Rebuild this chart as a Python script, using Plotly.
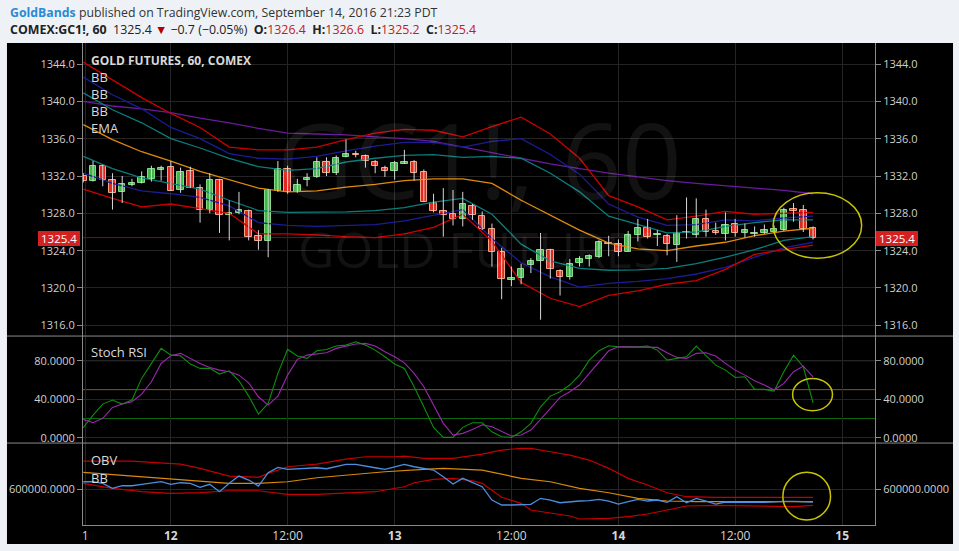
"""Rebuilds the TradingView GC1! 60 minute snapshot: candles with bands, Stoch RSI and OBV."""

import plotly.graph_objects as go

# ---- price candles, one per hourly bar (x = bar number from the left edge) ----
OPEN = [1332.0, 1331.5, 1333.1, 1331.6, 1330.3, 1331.0, 1331.3, 1331.7, 1332.6, 1333.0,
        1330.5, 1332.5, 1330.7, 1328.4, 1331.6, 1327.8, 1328.0, 1328.3, 1325.6, 1325.0,
        1330.4, 1332.8, 1330.3, 1331.6, 1331.9, 1333.5, 1332.3, 1334.0, 1334.4, 1334.1,
        1333.5, 1332.9, 1332.5, 1333.3, 1333.5, 1332.4, 1329.1, 1328.2, 1327.9, 1327.4,
        1328.8, 1327.7, 1326.3, 1323.9, 1320.9, 1321.1, 1322.5, 1322.9, 1324.1, 1321.8,
        1321.2, 1322.7, 1323.1, 1323.3, 1324.8, 1324.7, 1323.9, 1325.7, 1326.4, 1325.7,
        1325.6, 1324.6, 1326.0, 1325.7, 1327.4, 1326.1, 1325.8, 1326.9, 1325.9, 1325.8,
        1325.9, 1326.0, 1326.2, 1328.5, 1328.4, 1326.4]
HIGH = [1332.3, 1333.6, 1333.2, 1332.3, 1332.0, 1331.7, 1332.5, 1333.1, 1333.1, 1333.6,
        1332.9, 1333.0, 1331.1, 1332.3, 1331.7, 1329.4, 1330.3, 1328.4, 1326.2, 1330.6,
        1333.6, 1333.1, 1331.7, 1332.3, 1334.0, 1334.0, 1334.2, 1335.9, 1334.7, 1334.3,
        1333.7, 1333.1, 1333.6, 1334.8, 1333.7, 1332.7, 1330.1, 1330.7, 1330.5, 1330.3,
        1329.0, 1328.2, 1326.9, 1324.3, 1322.3, 1322.6, 1323.2, 1325.9, 1324.2, 1322.0,
        1323.1, 1323.4, 1323.6, 1325.1, 1325.6, 1325.2, 1326.1, 1327.4, 1327.4, 1326.2,
        1325.8, 1327.8, 1329.7, 1329.6, 1328.4, 1327.0, 1328.1, 1327.4, 1326.9, 1326.6,
        1326.8, 1326.7, 1328.6, 1329.1, 1328.9, 1326.6]
LOW = [1331.3, 1331.4, 1330.9, 1328.4, 1329.1, 1330.9, 1331.2, 1331.4, 1331.5, 1330.4,
       1330.2, 1330.7, 1327.0, 1328.0, 1325.9, 1325.1, 1327.9, 1325.1, 1324.1, 1323.3,
       1330.3, 1330.1, 1330.2, 1330.9, 1331.8, 1332.0, 1332.1, 1334.0, 1334.0, 1332.9,
       1332.3, 1331.9, 1331.6, 1333.3, 1331.5, 1329.2, 1328.1, 1325.5, 1326.7, 1326.6,
       1327.3, 1326.2, 1322.3, 1318.8, 1320.2, 1320.4, 1321.6, 1316.6, 1321.0, 1319.2,
       1320.9, 1322.3, 1322.3, 1323.2, 1323.4, 1323.4, 1323.9, 1325.0, 1325.3, 1324.5,
       1323.5, 1322.8, 1325.3, 1325.4, 1325.5, 1325.7, 1325.1, 1325.5, 1325.4, 1325.5,
       1325.8, 1325.9, 1326.1, 1327.1, 1326.0, 1325.2]
CLOSE = [1331.5, 1333.1, 1331.6, 1330.2, 1331.1, 1331.3, 1331.9, 1332.8, 1332.9, 1330.4,
         1332.4, 1330.7, 1328.4, 1331.6, 1327.8, 1328.0, 1328.4, 1325.5, 1325.0, 1330.5,
         1332.8, 1330.3, 1331.0, 1331.8, 1333.5, 1332.3, 1333.9, 1334.4, 1334.2, 1333.6,
         1333.1, 1332.5, 1333.4, 1333.5, 1332.3, 1329.2, 1328.3, 1327.8, 1327.4, 1329.0,
         1327.8, 1326.3, 1323.9, 1321.0, 1321.1, 1322.0, 1322.9, 1324.1, 1322.0, 1321.2,
         1322.6, 1323.1, 1323.4, 1324.9, 1324.7, 1323.9, 1325.7, 1326.4, 1325.5, 1325.75,
         1324.7, 1325.9, 1325.9, 1327.4, 1326.0, 1325.9, 1326.8, 1325.9, 1326.2, 1325.9,
         1326.2, 1326.3, 1328.4, 1328.3, 1326.3, 1325.4]

# ---- overlays on the price pane, read every third bar ----
BAND_IDX = [0, 3, 6, 9, 12, 15, 18, 21, 24, 27, 30, 33, 36, 39, 42, 45, 48, 51, 54, 57,
            60, 63, 66, 69, 72, 75]
RED_UP = [1344.2, 1342.3, 1340.4, 1338.7, 1337.2, 1335.1, 1334.8, 1334.8, 1335.1, 1335.9,
          1336.6, 1337.0, 1336.9, 1336.2, 1337.3, 1338.3, 1336.5, 1333.9, 1329.9, 1328.7,
          1327.3, 1327.7, 1328.2, 1327.9, 1328.0, 1328.1]
BLUE_UP = [1342.6, 1340.7, 1339.2, 1337.2, 1336.0, 1334.4, 1333.9, 1333.8, 1334.1, 1334.7,
           1335.2, 1335.6, 1335.6, 1335.1, 1335.7, 1336.0, 1334.3, 1332.2, 1329.0, 1327.6,
           1326.7, 1326.8, 1327.3, 1327.2, 1327.5, 1327.7]
TEAL_UP = [1340.9, 1339.1, 1337.7, 1336.0, 1335.0, 1333.9, 1333.0, 1332.6, 1332.8, 1333.5,
           1333.9, 1334.2, 1334.3, 1334.0, 1334.1, 1333.9, 1332.3, 1330.3, 1327.7, 1326.8,
           1325.9, 1326.0, 1326.6, 1327.0, 1327.3, 1327.3]
PURPLE = [1340.0, 1339.5, 1339.2, 1338.8, 1338.2, 1337.7, 1337.1, 1336.6, 1336.5, 1336.4,
          1336.2, 1336.0, 1335.7, 1335.1, 1334.5, 1333.9, 1333.3, 1332.8, 1332.3, 1331.9,
          1331.5, 1331.2, 1330.95, 1330.7, 1330.45, 1330.1]
EMA = [1337.5, 1335.9, 1334.6, 1333.6, 1332.5, 1331.6, 1330.7, 1330.3, 1330.4, 1330.8,
       1331.1, 1331.5, 1331.7, 1331.7, 1331.2, 1329.4, 1327.8, 1326.2, 1324.8, 1324.2,
       1324.0, 1324.5, 1324.9, 1325.6, 1326.1, 1326.4]
TEAL_LO = [1334.1, 1332.8, 1331.8, 1331.2, 1330.6, 1329.4, 1328.3, 1328.1, 1328.1, 1328.15,
           1328.3, 1328.6, 1329.2, 1329.6, 1327.9, 1324.7, 1322.9, 1322.1, 1321.9, 1321.95,
           1322.1, 1322.6, 1323.3, 1324.1, 1325.1, 1325.5]
BLUE_LO = [1332.3, 1331.2, 1330.4, 1330.1, 1329.7, 1328.8, 1327.0, 1326.7, 1326.6, 1326.7,
           1326.8, 1327.2, 1327.8, 1328.4, 1325.3, 1322.7, 1321.2, 1320.1, 1320.5, 1320.7,
           1321.0, 1321.5, 1322.2, 1323.3, 1324.3, 1324.9]
RED_LO = [1330.6, 1329.6, 1328.7, 1329.0, 1328.5, 1328.0, 1325.8, 1325.8, 1325.7, 1325.5,
          1325.4, 1325.8, 1326.5, 1327.9, 1325.0, 1320.6, 1318.9, 1318.0, 1319.2, 1319.7,
          1320.4, 1320.8, 1322.0, 1323.6, 1324.1, 1324.6]

# ---- Stoch RSI (per bar) ----
STOCH_K = [10.4, 23.6, 35.0, 39.2, 35.0, 39.2, 61.7, 77.3, 92.9, 85.9,
           85.2, 76.6, 72.1, 72.1, 66.2, 69.6, 59.2, 43.3, 24.6, 35.7,
           66.9, 91.8, 84.9, 82.5, 90.4, 91.8, 95.3, 96.3, 99.7, 96.3,
           91.1, 84.2, 76.6, 72.1, 53.0, 32.2, 10.8, 0.4, 0.4, 10.8,
           15.6, 15.6, 6.2, 1.0, 0.4, 6.2, 15.0, 32.2, 43.3, 47.8,
           54.8, 65.1, 80.7, 90.4, 95.6, 94.5, 94.5, 94.5, 95.3, 91.1,
           80.7, 82.5, 84.2, 95.3, 85.9, 75.5, 70.3, 62.7, 63.4, 50.3,
           50.3, 48.5, 68.6, 85.9, 73.8, 36.4]
STOCH_D = [19.1, 15.6, 20.2, 31.6, 35.0, 37.4, 45.4, 58.2, 77.3, 85.2,
           87.7, 82.5, 77.3, 73.1, 70.3, 68.6, 65.1, 57.1, 42.6, 34.0,
           43.3, 65.1, 81.5, 85.9, 87.0, 88.3, 92.9, 95.3, 97.4, 98.1,
           95.3, 89.4, 84.2, 77.9, 66.9, 53.0, 34.0, 15.0, 2.8, 4.6,
           8.7, 13.5, 11.4, 6.2, 1.8, 2.8, 8.0, 19.1, 30.5, 42.0,
           47.8, 54.8, 66.9, 79.0, 90.4, 94.5, 94.5, 94.5, 94.5, 93.9,
           88.3, 83.5, 82.5, 87.7, 88.3, 84.9, 77.3, 70.3, 65.1, 59.2,
           54.8, 49.6, 56.5, 68.6, 74.5, 63.4]
STOCH_LEVELS = [80, 50, 20]

# ---- OBV (per bar) and its bands ----
OBV = [614600, 614600, 611400, 601400, 606600, 606600, 609400, 611400, 614600, 609400,
       612600, 611400, 603400, 609400, 594600, 611400, 626000, 618000, 606000, 632600,
       643400, 639400, 640600, 640600, 642600, 640600, 644600, 649400, 649400, 646600,
       642600, 639400, 644600, 649400, 644600, 641400, 638000, 624600, 610000, 621400,
       612600, 604600, 578000, 568000, 568000, 569400, 569400, 581400, 578000, 572600,
       574600, 576000, 576600, 579400, 576000, 570000, 574600, 579400, 576000, 578000,
       573400, 584600, 572600, 581400, 576000, 570000, 574000, 573400, 573400, 573400,
       573400, 574600, 575400, 575400, 574000, 574000]
OBV_UP_IDX = [0, 5, 7, 10, 12, 14, 15, 18, 19, 21, 24, 27, 29, 32, 33, 35, 38, 41, 43, 45,
              46, 48, 50, 52, 54, 56, 58, 60, 62, 65, 68, 72, 75]
OBV_UP = [656000, 656000, 653400, 650000, 641400, 631400, 626000, 623400, 631400, 644600,
          650000, 660000, 664600, 664600, 666000, 661400, 661400, 670000, 678000, 681400,
          681400, 674600, 668000, 658000, 641400, 621400, 608000, 592600, 584600, 583400,
          583400, 583400, 583400]
OBV_MID_IDX = [0, 5, 9, 12, 15, 18, 21, 24, 28, 31, 35, 37, 41, 45, 48, 51, 54, 57, 60, 63,
               68, 75]
OBV_MID = [633400, 626000, 621400, 616600, 611400, 611400, 614600, 622600, 629400, 634600,
           639400, 641400, 638000, 621400, 614600, 601400, 592600, 581400, 576000, 574600,
           574600, 574600]
OBV_LO_IDX = [0, 3, 6, 9, 12, 15, 18, 21, 24, 28, 30, 33, 34, 36, 38, 40, 41, 43, 45, 46,
              48, 50, 51, 54, 56, 58, 60, 62, 65, 70, 73, 75]
OBV_LO = [611400, 601400, 594600, 591400, 592600, 596600, 596600, 589400, 589400, 592600,
          594600, 604600, 612600, 619400, 621400, 616600, 611400, 583400, 571400, 558000,
          551400, 546000, 540000, 541400, 544600, 550000, 558000, 566000, 567400, 566000,
          564600, 567400]

# ---- time axis ----
TIME_TICKS = [0.2, 9, 21, 32, 44, 55, 67, 78]
TIME_LABELS = ["1", "<b>12</b>", "12:00", "<b>13</b>", "12:00", "<b>14</b>", "12:00", "<b>15</b>"]

# yellow rings drawn by the author (bar span, value span) per pane
RING_PRICE = (70.9, 80.0, 1323.2, 1330.2)
RING_STOCH = (72.9, 77.0, 28.1, 61.7)
RING_OBV = (71.9, 76.8, 538000, 633400)

FONT = "Open Sans"
AXIS_TXT = "#cfcfcf"
GRID = "#242424"
EDGE = "#8a8a8a"

fig = go.Figure()

# bands and moving averages
overlays = [
    (PURPLE, "#6a1b9a"), (RED_UP, "#cc0000"), (BLUE_UP, "#1c1c96"), (TEAL_UP, "#0b7c7c"),
    (EMA, "#e08a0b"), (TEAL_LO, "#0b7c7c"), (BLUE_LO, "#1c1c96"), (RED_LO, "#cc0000"),
]
for vals, color in overlays:
    fig.add_trace(go.Scatter(x=BAND_IDX, y=vals, mode="lines", yaxis="y",
                             line=dict(color=color, width=1.3), hoverinfo="skip"))

# wicks
wick_x, wick_y = [], []
for i in range(len(OPEN)):
    wick_x += [i, i, None]
    wick_y += [LOW[i], HIGH[i], None]
fig.add_trace(go.Scatter(x=wick_x, y=wick_y, mode="lines", yaxis="y",
                         line=dict(color="#d8d8d8", width=1), hoverinfo="skip"))

# bodies
is_up = [c >= o for o, c in zip(OPEN, CLOSE)]
fig.add_trace(go.Bar(
    x=list(range(len(OPEN))),
    y=[abs(c - o) for o, c in zip(OPEN, CLOSE)],
    base=[min(o, c) for o, c in zip(OPEN, CLOSE)],
    width=0.66, yaxis="y",
    marker=dict(color=["#3fb54a" if u else "#e2271e" for u in is_up],
                line=dict(color=["#86dc86" if u else "#f6a584" for u in is_up], width=1)),
    hoverinfo="skip",
))

# Stoch RSI
fig.add_trace(go.Scatter(x=list(range(len(STOCH_K))), y=STOCH_K, mode="lines", yaxis="y2",
                         line=dict(color="#0d8f0d", width=1.1), hoverinfo="skip"))
fig.add_trace(go.Scatter(x=list(range(len(STOCH_D))), y=STOCH_D, mode="lines", yaxis="y2",
                         line=dict(color="#9c27b0", width=1.1), hoverinfo="skip"))

# OBV + bands
fig.add_trace(go.Scatter(x=OBV_UP_IDX, y=OBV_UP, mode="lines", yaxis="y3",
                         line=dict(color="#c40000", width=1.2), hoverinfo="skip"))
fig.add_trace(go.Scatter(x=OBV_MID_IDX, y=OBV_MID, mode="lines", yaxis="y3",
                         line=dict(color="#d98a0a", width=1.2), hoverinfo="skip"))
fig.add_trace(go.Scatter(x=OBV_LO_IDX, y=OBV_LO, mode="lines", yaxis="y3",
                         line=dict(color="#c40000", width=1.2), hoverinfo="skip"))
fig.add_trace(go.Scatter(x=list(range(len(OBV))), y=OBV, mode="lines", yaxis="y3",
                         line=dict(color="#4a8fe0", width=1.3), hoverinfo="skip"))

# invisible anchors so the left-hand copies of the value axes get drawn
for ax, val in (("y4", CLOSE[0]), ("y5", STOCH_K[0]), ("y6", OBV[0])):
    fig.add_trace(go.Scatter(x=[0], y=[val], yaxis=ax, mode="markers",
                             marker=dict(opacity=0), hoverinfo="skip"))

price_range = [1314.85, 1346.25]
stoch_range = [-5.5, 105.7]
obv_range = [528000, 692000]
main_dom = [0.392, 1.0]
stoch_dom = [0.170, 0.392]
obv_dom = [0.0, 0.170]

axis_common = dict(showline=True, linecolor=EDGE, linewidth=1, ticks="outside", ticklen=5,
                   tickcolor=EDGE, tickfont=dict(family=FONT, size=11, color=AXIS_TXT),
                   zeroline=False, fixedrange=True, automargin=False)

fig.update_layout(
    width=959, height=551,
    margin=dict(l=83, r=84, t=43, b=26, autoexpand=False),
    paper_bgcolor="#eef2f7", plot_bgcolor="#000000",
    showlegend=False, barmode="overlay", bargap=0,
    xaxis=dict(domain=[0, 1], anchor="y3", range=[-0.03, 81.37], automargin=False,
               tickvals=TIME_TICKS, ticktext=TIME_LABELS, showgrid=True, gridcolor=GRID,
               showline=True, linecolor=EDGE, ticks="", zeroline=False, fixedrange=True,
               tickfont=dict(family=FONT, size=12, color="#d6d6d6")),
    yaxis=dict(domain=main_dom, anchor="x", side="right", range=price_range, tick0=1316,
               dtick=4, tickformat=".1f", gridcolor=GRID, **axis_common),
    yaxis2=dict(domain=stoch_dom, anchor="x", side="right", range=stoch_range, tick0=0,
                dtick=40, tickformat=".4f", gridcolor=GRID, **axis_common),
    yaxis3=dict(domain=obv_dom, anchor="x", side="right", range=obv_range,
                tickvals=[600000], tickformat=".4f", gridcolor=GRID, **axis_common),
    yaxis4=dict(overlaying="y", side="left", anchor="x", range=price_range, tick0=1316,
                dtick=4, tickformat=".1f", showgrid=False, **axis_common),
    yaxis5=dict(overlaying="y2", side="left", anchor="x", range=stoch_range, tick0=0,
                dtick=40, tickformat=".4f", showgrid=False, **axis_common),
    yaxis6=dict(overlaying="y3", side="left", anchor="x", range=obv_range,
                tickvals=[600000], tickformat=".4f", showgrid=False, **axis_common),
)

shapes = [
    # black chart box and pane separators
    dict(type="rect", xref="paper", yref="paper", x0=-0.096, x1=1.0985, y0=-0.0394, y1=1.0,
         fillcolor="#000000", line=dict(width=0), layer="below"),
    dict(type="line", xref="paper", yref="paper", x0=-0.096, x1=1.0985, y0=stoch_dom[1],
         y1=stoch_dom[1], line=dict(color=EDGE, width=1)),
    dict(type="line", xref="paper", yref="paper", x0=-0.096, x1=1.0985, y0=obv_dom[1],
         y1=obv_dom[1], line=dict(color=EDGE, width=1)),
    # last price line
    dict(type="line", xref="paper", yref="y", x0=0, x1=1, y0=CLOSE[-1], y1=CLOSE[-1],
         line=dict(color="#6e1414", width=1), layer="below"),
]
for lvl, color in zip(STOCH_LEVELS, ["#8b0000", "#94540a", "#0b6b0b"]):
    shapes.append(dict(type="line", xref="paper", yref="y2", x0=0, x1=1, y0=lvl, y1=lvl,
                       line=dict(color=color, width=1), layer="below"))
for ring, yref in ((RING_PRICE, "y"), (RING_STOCH, "y2"), (RING_OBV, "y3")):
    shapes.append(dict(type="circle", xref="x", yref=yref, x0=ring[0], x1=ring[1],
                       y0=ring[2], y1=ring[3], line=dict(color="#c9c400", width=1.5)))
fig.update_layout(shapes=shapes)

red = "#c0201a"
header_1 = ('<span style="color:#2b8ad4"><b>GoldBands</b></span>'
            ' published on TradingView.com, September 14, 2016 21:23 PDT')
header_2 = ("<b>COMEX:GC1!, 60</b>&nbsp; %.1f " % CLOSE[-1]
            + '<span style="color:#b00000">▼</span> −0.7 (−0.05%)&nbsp; '
            + '<b>O:</b><span style="color:%s">%.1f</span>&nbsp; ' % (red, OPEN[-1])
            + '<b>H:</b><span style="color:%s">%.1f</span>&nbsp; ' % (red, HIGH[-1])
            + '<b>L:</b><span style="color:%s">%.1f</span>&nbsp; ' % (red, LOW[-1])
            + '<b>C:</b><span style="color:%s">%.1f</span>' % (red, CLOSE[-1]))

notes = [
    dict(text=header_1, x=-0.0947, y=1.064, font=dict(size=12.3, color="#333333")),
    dict(text=header_2, x=-0.0947, y=1.027, font=dict(size=12.4, color="#222222")),
    dict(text="<b>GOLD FUTURES, 60, COMEX</b>", x=0.007, y=0.9647,
         font=dict(size=12, color="#d9d9d9")),
    dict(text="BB", x=0.007, y=0.9295, font=dict(size=13, color="#d9d9d9")),
    dict(text="BB", x=0.007, y=0.8942, font=dict(size=13, color="#d9d9d9")),
    dict(text="BB", x=0.007, y=0.8589, font=dict(size=13, color="#d9d9d9")),
    dict(text="EMA", x=0.007, y=0.8237, font=dict(size=13, color="#d9d9d9")),
    dict(text="Stoch RSI", x=0.007, y=0.3589, font=dict(size=13, color="#d9d9d9")),
    dict(text="OBV", x=0.007, y=0.1349, font=dict(size=13, color="#d9d9d9")),
    dict(text="BB", x=0.007, y=0.0975, font=dict(size=13, color="#d9d9d9")),
]
for n in notes:
    fig.add_annotation(xref="paper", yref="paper", xanchor="left", yanchor="middle",
                       showarrow=False, text=n["text"], x=n["x"], y=n["y"],
                       font=dict(family=FONT, **n["font"]))

# watermark
fig.add_annotation(xref="paper", yref="paper", x=0.5, y=0.76, xanchor="center",
                   yanchor="middle", showarrow=False, text="GC1!, 60",
                   font=dict(family=FONT, size=105, color="rgba(255,255,255,0.07)"))
fig.add_annotation(xref="paper", yref="paper", x=0.5, y=0.572, xanchor="center",
                   yanchor="middle", showarrow=False, text="GOLD FUTURES",
                   font=dict(family=FONT, size=50, color="rgba(255,255,255,0.07)"))

# last price tags on both sides
for xpos, anchor, shift in ((1.0, "left", 1), (0.0, "right", -3)):
    fig.add_annotation(xref="paper", yref="y", x=xpos, y=CLOSE[-1], xanchor=anchor,
                       yanchor="middle", xshift=shift, yshift=-1, showarrow=False,
                       text="&nbsp;%.1f&nbsp;" % CLOSE[-1],
                       bgcolor="#d42020", borderpad=0, borderwidth=0,
                       font=dict(family=FONT, size=11.5, color="#ffffff"))

fig.write_html("out.html", config={"displayModeBar": False},
               post_script="document.body.style.margin='0';")
